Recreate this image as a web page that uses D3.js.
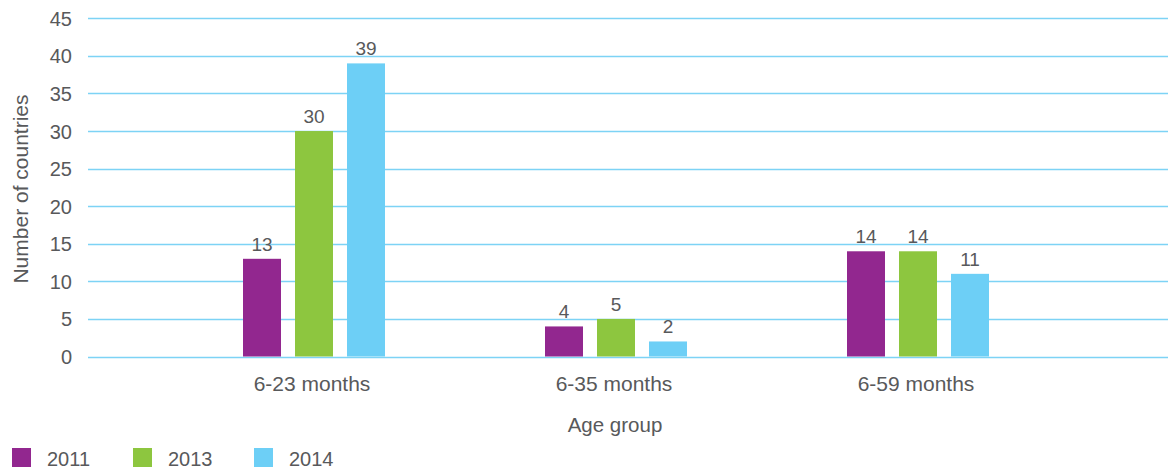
<!DOCTYPE html>
<html><head><meta charset="utf-8">
<script src="https://cdn.jsdelivr.net/npm/d3@7"></script>
<style>body{margin:0;background:#fff}svg{display:block}text{font-family:"Liberation Sans",Arial,sans-serif;fill:#58595b}</style>
</head><body>
<svg id="c" width="1173" height="470"></svg>
<script>
const categories = ["6-23 months","6-35 months","6-59 months"];
const seriesNames = ["2011","2013","2014"];
const values2011 = [13,4,14];
const values2013 = [30,5,14];
const values2014 = [39,2,11];
const yTicks = [0,5,10,15,20,25,30,35,40,45];
const colors = ["#92278f","#8dc63f","#6dcff6"];

const series = [values2011, values2013, values2014];
const svg = d3.select("#c");
const gridX0 = 88, gridX1 = 1168;
const y = d3.scaleLinear().domain([0,45]).range([356.5,18.3]);
const x = d3.scaleBand().domain(categories).range([163,1069]).paddingInner(0).paddingOuter(0);
const bw = 38, step = 52;

// gridlines
svg.append("g").selectAll("line").data(yTicks).join("line")
  .attr("x1",gridX0).attr("x2",gridX1)
  .attr("y1",d=>Math.round(y(d))+0.5).attr("y2",d=>Math.round(y(d))+0.5)
  .attr("stroke","#7dd3f5").attr("stroke-width",1.3);

// y tick labels
const yAxis = d3.axisLeft(y).tickValues(yTicks).tickSize(0).tickPadding(0);
const ga = svg.append("g").attr("transform",`translate(72,0)`).call(yAxis);
ga.select(".domain").remove();
ga.selectAll("text").attr("font-size",20).attr("font-family","'Liberation Sans',Arial,sans-serif").attr("fill","#58595b").attr("dy","0.35em");

// bars
categories.forEach((c,ci)=>{
  const cx = x(c) + x.bandwidth()/2;
  series.forEach((s,si)=>{
    const bx = cx + (si-1)*step - bw/2;
    svg.append("rect").attr("x",bx).attr("width",bw)
      .attr("y",y(s[ci])).attr("height",y(0)-y(s[ci])).attr("fill",colors[si]);
    svg.append("text").attr("x",bx+bw/2).attr("y",y(s[ci])-8)
      .attr("text-anchor","middle").attr("font-size",19).text(s[ci]);
  });
  svg.append("text").attr("x",cx-2).attr("y",391).attr("text-anchor","middle")
    .attr("font-size",21).text(c);
});

// axis titles
svg.append("text").attr("x",615).attr("y",432).attr("text-anchor","middle").attr("font-size",20.5).text("Age group");
svg.append("text").attr("transform","translate(28,189) rotate(-90)").attr("text-anchor","middle").attr("font-size",21).text("Number of countries");

// legend
const legX = [12,133,254];
seriesNames.forEach((n,i)=>{
  svg.append("rect").attr("x",legX[i]).attr("y",448).attr("width",19).attr("height",19).attr("fill",colors[i]);
  svg.append("text").attr("x",legX[i]+35).attr("y",466).attr("font-size",20).text(n);
});
</script>
</body></html>
